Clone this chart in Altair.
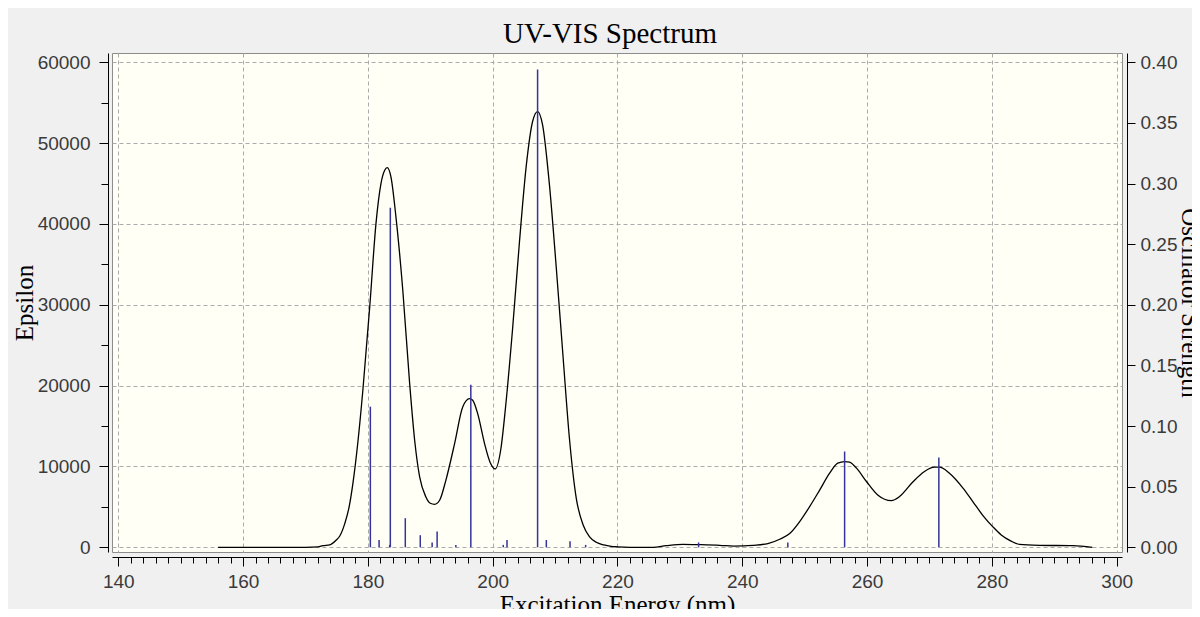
import altair as alt
import pandas as pd

# Spectrum curve: wavelength (nm) and epsilon
curve_nm = [156.0, 160.0, 165.0, 170.0, 172.0, 172.8, 173.9, 174.9, 175.5, 176.3, 177.0, 177.6,
            178.4, 179.2, 180.3, 181.3, 182.1, 182.7, 183.1, 183.7, 184.5, 185.6, 186.7, 187.5,
            188.3, 189.3, 190.0, 190.7, 191.5, 192.5, 193.9, 195.2, 196.3, 196.8, 197.6, 198.7,
            199.6, 200.4, 201.3, 202.1, 203.2, 204.3, 205.4, 206.4, 207.2, 208.0, 209.1, 210.2,
            211.3, 212.3, 213.4, 214.5, 215.5, 216.6, 217.8, 219.0, 220.0, 222.0, 225.7, 227.8,
            230.5, 233.2, 236.4, 238.6, 241.7, 244.1, 246.0, 247.6, 249.2, 250.8, 252.4, 254.0,
            255.3, 256.4, 257.2, 258.3, 259.9, 261.7, 263.9, 265.2, 267.4, 269.2, 270.8, 271.6,
            273.2, 275.4, 277.0, 278.6, 280.2, 281.5, 283.0, 284.4, 287.6, 293.0, 296.1]
curve_eps = [0, 0, 0, 0, 60, 200, 300, 870, 1400, 2930, 5000, 7880,
             13000, 19430, 29740, 40050, 45000, 46650, 46980, 45830, 40880, 31800, 20250, 13240,
             8700, 6230, 5450, 5320, 5820, 8290, 12830, 17370, 18400, 18190, 16540, 12830,
             10500, 9700, 12100, 17610, 27100, 37830, 47310, 52680, 53910, 52260, 44840, 34530,
             23390, 13490, 6060, 2760, 1320, 620, 300, 120, 60, 0, 0, 200,
             370, 330, 250, 150, 250, 460, 1000, 1700, 3180, 5040, 7080, 9170,
             10410, 10610, 10530, 9790, 8140, 6480, 5780, 6280, 8140, 9380, 9910, 9910,
             9170, 7300, 5600, 3900, 2500, 1530, 800, 370, 250, 200, 0]

# Excitations (sticks): wavelength (nm) and oscillator strength
stick_nm = [180.4, 181.8, 183.5, 183.6, 186.0, 188.4, 190.3, 191.1, 194.1, 196.5,
            201.7, 202.3, 207.2, 208.6, 212.4, 214.9, 233.0, 247.3, 256.4, 271.5]
stick_f = [0.116, 0.006, 0.002, 0.280, 0.024, 0.010, 0.004, 0.013, 0.002, 0.134,
           0.002, 0.006, 0.394, 0.006, 0.005, 0.002, 0.004, 0.004, 0.079, 0.074]

x_ticks = list(range(140, 301, 2))
y_ticks = list(range(0, 60001, 5000))
f_ticks = [0.0, 0.05, 0.10, 0.15, 0.20, 0.25, 0.30, 0.35, 0.40]

curve_df = pd.DataFrame({"nm": curve_nm, "eps": curve_eps})
stick_df = pd.DataFrame({"nm": stick_nm, "f": stick_f})

LABEL_FONT = "Liberation Sans"
TITLE_FONT = "Liberation Serif"
LABEL_COLOR = "#3a3a3a"
LABEL_SIZE = 19

x_scale = alt.Scale(domain=[139.0, 300.85], nice=False, zero=False)

x_axis = alt.Axis(
    values=x_ticks, format="d",
    labelExpr="datum.value % 20 === 0 ? datum.label : ''",
    tickSize={"condition": {"test": "datum.value % 20 === 0", "value": 9}, "value": 6},
    grid=True,
    gridOpacity={"condition": {"test": "datum.value % 20 === 0", "value": 1}, "value": 0},
    gridDash=[4, 3], gridColor="#ABABAB", gridWidth=1,
    domainColor="black", tickColor="black", offset=5,
    labelPadding=6, labelFont=LABEL_FONT, labelFontSize=LABEL_SIZE, labelColor=LABEL_COLOR,
    labelOverlap=False, labelFlush=False, labelBound=False,
    title="Excitation Energy (nm)", titleFont=TITLE_FONT, titleFontSize=25,
    titleFontWeight="normal", titleColor="black", titlePadding=1,
)

y_axis = alt.Axis(
    values=y_ticks, format="d",
    labelExpr="datum.value % 10000 === 0 ? datum.label : ''",
    tickSize={"condition": {"test": "datum.value % 10000 === 0", "value": 9}, "value": 7},
    grid=True,
    gridOpacity={"condition": {"test": "datum.value % 10000 === 0", "value": 1}, "value": 0},
    gridDash=[4, 3], gridColor="#ABABAB", gridWidth=1,
    domainColor="black", tickColor="black", offset=4,
    labelPadding=9, labelFont=LABEL_FONT, labelFontSize=LABEL_SIZE, labelColor=LABEL_COLOR,
    labelOverlap=False, labelFlush=False, labelBound=False,
    title="Epsilon", titleFont=TITLE_FONT, titleFontSize=25,
    titleFontWeight="normal", titleColor="black", titlePadding=0,
)

f_axis = alt.Axis(
    orient="right", values=f_ticks, format=".2f", tickSize=8, grid=False,
    domainColor="black", tickColor="black", offset=5,
    labelPadding=5, labelFont=LABEL_FONT, labelFontSize=LABEL_SIZE, labelColor=LABEL_COLOR,
    labelOverlap=False, labelFlush=False, labelBound=False,
    title="Oscillator Strength", titleFont=TITLE_FONT, titleFontSize=25,
    titleFontWeight="normal", titleColor="black", titlePadding=0,
)

curve = alt.Chart(curve_df).mark_line(color="black", strokeWidth=1.3, interpolate="monotone").encode(
    x=alt.X("nm:Q", scale=x_scale, axis=x_axis),
    y=alt.Y("eps:Q", scale=alt.Scale(domain=[-580, 61150], nice=False, zero=False), axis=y_axis),
)

sticks = alt.Chart(stick_df).mark_rule(color="#34349A", strokeWidth=1.5).encode(
    x=alt.X("nm:Q", scale=x_scale, axis=x_axis),
    y=alt.Y("f:Q", scale=alt.Scale(domain=[-0.00387, 0.40767], nice=False, zero=False), axis=f_axis),
    y2=alt.datum(0.0),
)

chart = alt.layer(curve, sticks).resolve_scale(y="independent").properties(
    width=1010, height=499,
    padding={"left": 104, "top": 45, "right": 70, "bottom": 57},
    autosize=alt.AutoSizeParams(type="none"),
    background="#F0F0F0",
    title=alt.TitleParams("UV-VIS Spectrum", font=TITLE_FONT, fontSize=29,
                          fontWeight="normal", color="black", anchor="middle",
                          offset=4, dx=-7),
).configure_view(
    fill="#FFFFF5", stroke="#8C8C8C", strokeWidth=1
).configure_axis(
    labelOverlap=False
)

chart.save("out.html", embed_options={"renderer": "svg", "actions": False})
